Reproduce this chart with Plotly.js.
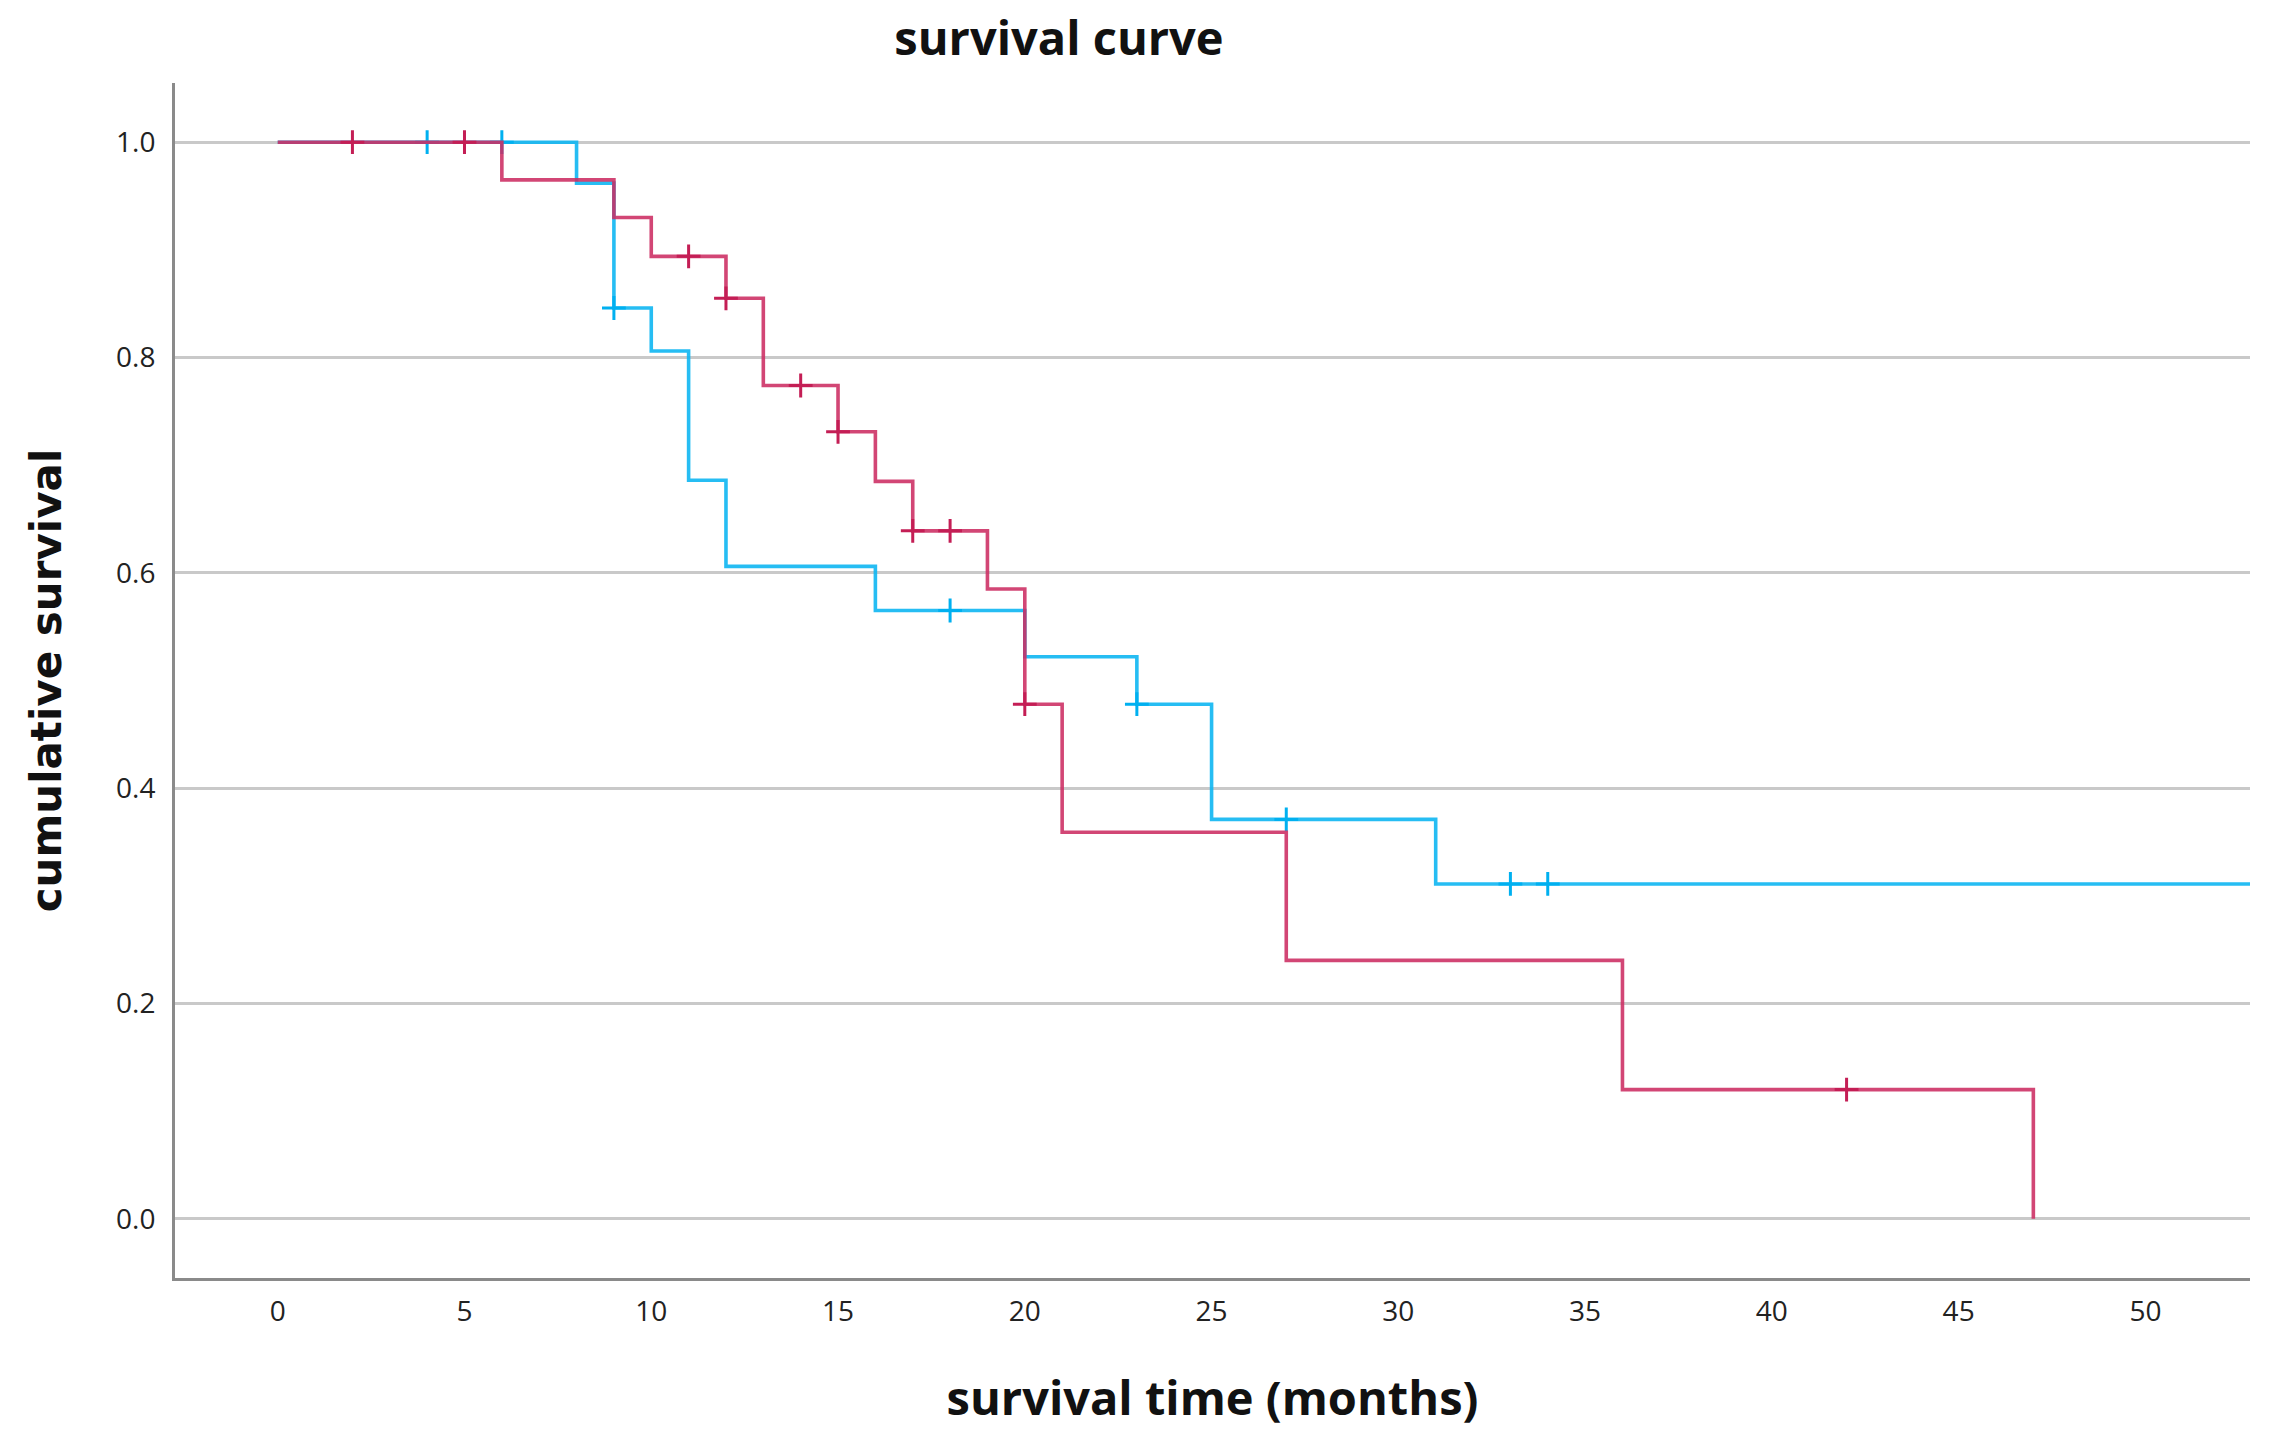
<!DOCTYPE html>
<html>
<head>
<meta charset="utf-8">
<script src="https://cdn.plot.ly/plotly-3.0.1.min.js"></script>
<style>html,body{margin:0;padding:0;background:#fff;}#chart{width:2272px;height:1436px;}</style>
</head>
<body>
<div id="chart"></div>
<script>
// Group A (red) Kaplan-Meier steps
const redTimes = [0, 6, 9, 10, 12, 13, 15, 16, 17, 19, 20, 21, 27, 36, 47];
const redSurv  = [1.0, 0.965, 0.930, 0.894, 0.855, 0.774, 0.731, 0.685, 0.639, 0.585, 0.478, 0.359, 0.240, 0.120, 0.0];
const redCensorTimes = [2, 5, 11, 12, 14, 15, 17, 18, 20, 42];

// Group B (blue) Kaplan-Meier steps
const blueTimes = [0, 8, 9, 10, 11, 12, 16, 20, 23, 25, 31, 53];
const blueSurv  = [1.0, 0.962, 0.846, 0.806, 0.686, 0.606, 0.565, 0.522, 0.478, 0.371, 0.311, 0.311];
const blueCensorTimes = [4, 6, 9, 18, 23, 27, 33, 34];

const xTicks = [0, 5, 10, 15, 20, 25, 30, 35, 40, 45, 50];
const yTicks = [0.0, 0.2, 0.4, 0.6, 0.8, 1.0];
const yTickLabels = ["0.0", "0.2", "0.4", "0.6", "0.8", "1.0"];

function survAt(times, surv, t) {
  let s = surv[0];
  for (let i = 0; i < times.length; i++) { if (times[i] <= t) s = surv[i]; }
  return s;
}

const RED = "rgba(204,44,98,0.88)";
const RED_M = "rgb(196,30,85)";
const BLUE = "rgba(14,182,242,0.9)";
const BLUE_M = "rgb(0,176,240)";

const traces = [
  {x: blueTimes, y: blueSurv, mode: "lines", line: {shape: "hv", color: BLUE, width: 3.6}, hoverinfo: "skip", showlegend: false},
  {x: blueCensorTimes, y: blueCensorTimes.map(t => survAt(blueTimes, blueSurv, t)), mode: "markers",
   marker: {symbol: "cross-thin", size: 17, line: {color: BLUE_M, width: 3}}, showlegend: false},
  {x: redTimes, y: redSurv, mode: "lines", line: {shape: "hv", color: RED, width: 3.6}, hoverinfo: "skip", showlegend: false},
  {x: redCensorTimes, y: redCensorTimes.map(t => survAt(redTimes, redSurv, t)), mode: "markers",
   marker: {symbol: "cross-thin", size: 17, line: {color: RED_M, width: 3}}, showlegend: false}
];

const layout = {
  width: 2272, height: 1436,
  paper_bgcolor: "#fff", plot_bgcolor: "#fff",
  margin: {l: 175, r: 22, t: 83, b: 158},
  showlegend: false,
  title: {text: "survival curve", font: {family: "Open Sans", size: 47, color: "#111", weight: "bold"},
          x: 1059/2272, xref: "container", xanchor: "center", y: 1 - 39/1436, yref: "container", yanchor: "middle"},
  xaxis: {
    range: [-2.75, 52.8], tickvals: xTicks, ticktext: xTicks.map(String),
    showgrid: false, zeroline: false, showline: true, linecolor: "#8a8a8a", linewidth: 3,
    ticks: "outside", ticklen: 6, tickcolor: "rgba(0,0,0,0)",
    tickfont: {family: "Open Sans", size: 28, color: "#222"},
    title: {text: "survival time (months)", font: {family: "Open Sans", size: 47, color: "#111", weight: "bold"}, standoff: 55}
  },
  yaxis: {
    range: [-0.055, 1.055], tickvals: yTicks, ticktext: yTickLabels,
    showgrid: true, gridcolor: "#c9c9c9", gridwidth: 3, zeroline: false,
    showline: true, linecolor: "#8a8a8a", linewidth: 3,
    ticks: "outside", ticklen: 11, tickcolor: "rgba(0,0,0,0)",
    tickfont: {family: "Open Sans", size: 28, color: "#222"},
    title: {text: "cumulative survival", font: {family: "DejaVu Sans", size: 42, color: "#111", weight: "bold"}, standoff: 42}
  }
};

Plotly.newPlot("chart", traces, layout, {displayModeBar: false, staticPlot: true});
</script>
</body>
</html>
